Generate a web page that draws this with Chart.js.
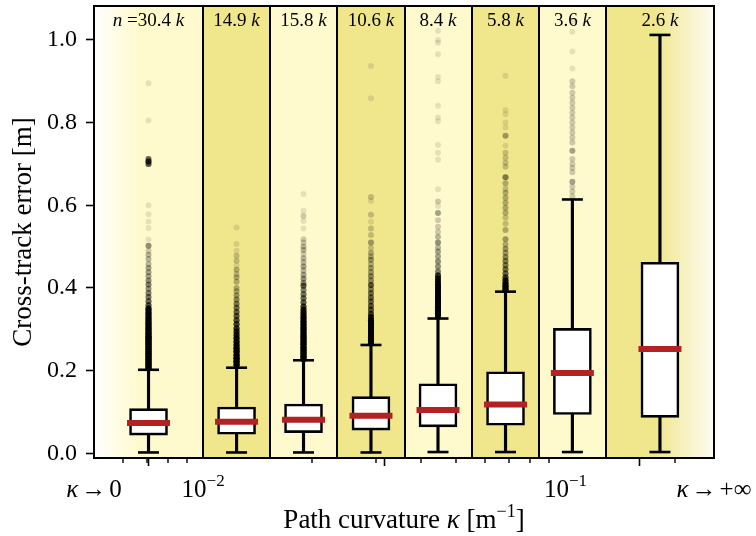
<!DOCTYPE html>
<html>
<head>
<meta charset="utf-8">
<script src="https://cdn.jsdelivr.net/npm/chart.js@4/dist/chart.umd.min.js"></script>
<style>
  html, body { margin: 0; padding: 0; background: #fff; }
  canvas { display: block; }
</style>
</head>
<body>
<canvas id="errChart" width="756" height="536"></canvas>
<script>
// curvature bins (log-spaced), first and last bin are open-ended
const binEdges = [0.005, 0.0100, 0.0153, 0.0234, 0.0361, 0.0552, 0.0845, 0.1294, 0.257];
const binCenters = [0.00707, 0.01237, 0.01893, 0.02906, 0.04449, 0.06833, 0.1045, 0.1823];
const sampleCounts = ['30.4', '14.9', '15.8', '10.6', '8.4', '5.8', '3.6', '2.6'];

// box statistics per bin [m]
const whiskerLow  = [0.002, 0.002, 0.002, 0.002, 0.003, 0.003, 0.003, 0.003];
const q1          = [0.044, 0.046, 0.050, 0.056, 0.064, 0.068, 0.094, 0.087];
const medians     = [0.073, 0.076, 0.081, 0.091, 0.105, 0.118, 0.194, 0.252];
const q3          = [0.108, 0.112, 0.119, 0.137, 0.168, 0.197, 0.302, 0.462];
const whiskerHigh = [0.202, 0.207, 0.225, 0.262, 0.326, 0.391, 0.614, 1.012];

// fliers as [value, count]
const fliers1 = [[0.895,1],[0.805,1],[0.712,8],[0.706,12],[0.700,10],[0.600,1],[0.578,1],[0.561,1],[0.545,1],[0.517,1],[0.502,5],[0.490,2],[0.480,3],[0.470,3],[0.458,3],[0.448,4],[0.438,4],[0.428,4],[0.418,5],[0.408,6],[0.398,5],[0.388,6],[0.378,7],[0.368,8],[0.358,10],[0.350,18],[0.344,20],[0.338,20],[0.332,22],[0.326,22],[0.320,24],[0.314,24],[0.308,26],[0.302,26],[0.296,28],[0.290,28],[0.284,30],[0.278,30],[0.272,30],[0.266,30],[0.260,30],[0.254,30],[0.248,30],[0.242,30],[0.236,30],[0.230,30],[0.224,30],[0.218,30],[0.212,30],[0.206,30]];
const fliers2 = [[0.546,1],[0.506,1],[0.490,1],[0.478,2],[0.466,2],[0.455,1],[0.444,3],[0.434,2],[0.426,3],[0.415,3],[0.400,3],[0.392,3],[0.382,4],[0.372,5],[0.362,6],[0.352,7],[0.342,8],[0.332,9],[0.322,10],[0.312,12],[0.302,14],[0.294,15],[0.286,16],[0.278,18],[0.270,20],[0.262,22],[0.254,24],[0.246,26],[0.238,28],[0.230,30],[0.222,30],[0.214,30]];
const fliers3 = [[0.627,1],[0.587,1],[0.574,2],[0.562,1],[0.544,1],[0.518,2],[0.510,2],[0.500,3],[0.492,3],[0.482,2],[0.472,3],[0.462,3],[0.452,4],[0.442,3],[0.432,4],[0.422,5],[0.412,5],[0.405,9],[0.395,6],[0.385,7],[0.375,8],[0.365,9],[0.355,12],[0.347,16],[0.340,18],[0.333,20],[0.326,22],[0.319,22],[0.312,24],[0.305,24],[0.298,26],[0.291,26],[0.284,28],[0.277,28],[0.270,30],[0.263,30],[0.256,30],[0.249,30],[0.242,30],[0.235,30],[0.228,30]];
const fliers4 = [[0.937,1],[0.859,1],[0.620,2],[0.610,1],[0.577,2],[0.560,1],[0.544,2],[0.528,2],[0.510,4],[0.497,2],[0.485,3],[0.476,3],[0.468,4],[0.458,3],[0.448,4],[0.438,4],[0.428,5],[0.418,5],[0.407,9],[0.397,6],[0.387,7],[0.377,8],[0.367,8],[0.357,9],[0.347,10],[0.337,12],[0.329,16],[0.322,20],[0.315,24],[0.308,26],[0.301,28],[0.294,30],[0.287,30],[0.280,30],[0.273,30],[0.266,30]];
const fliers5 = [[1.022,1],[1.000,1],[0.993,1],[0.965,1],[0.910,1],[0.900,1],[0.841,1],[0.812,1],[0.803,1],[0.746,1],[0.727,1],[0.710,1],[0.639,1],[0.609,2],[0.598,1],[0.581,4],[0.564,2],[0.548,2],[0.536,2],[0.524,3],[0.510,5],[0.498,3],[0.488,4],[0.476,4],[0.464,5],[0.452,5],[0.440,6],[0.430,14],[0.423,16],[0.416,18],[0.409,20],[0.402,22],[0.395,24],[0.388,26],[0.381,28],[0.374,30],[0.367,30],[0.360,30],[0.353,30],[0.346,30],[0.339,30],[0.332,30]];
const fliers6 = [[0.913,1],[0.830,1],[0.820,1],[0.800,1],[0.788,1],[0.768,4],[0.744,1],[0.727,2],[0.715,2],[0.703,2],[0.693,2],[0.668,6],[0.653,3],[0.640,2],[0.630,3],[0.618,3],[0.606,3],[0.594,3],[0.582,3],[0.570,2],[0.555,2],[0.540,3],[0.518,4],[0.505,3],[0.495,4],[0.485,4],[0.475,5],[0.465,6],[0.455,6],[0.445,7],[0.435,8],[0.425,12],[0.418,16],[0.411,20],[0.404,24],[0.397,26]];
const fliers7 = [[1.045,1],[1.020,1],[0.972,1],[0.931,1],[0.900,2],[0.888,2],[0.872,2],[0.860,2],[0.848,2],[0.836,2],[0.824,2],[0.812,2],[0.800,2],[0.788,2],[0.776,2],[0.764,2],[0.752,2],[0.732,4],[0.712,2],[0.700,2],[0.690,2],[0.680,2],[0.657,4],[0.645,2],[0.633,2],[0.622,2]];
const fliers8 = [];
const fliersByBin = [fliers1, fliers2, fliers3, fliers4, fliers5, fliers6, fliers7, fliers8];

// axis ticks
const yTicks = [0, 0.2, 0.4, 0.6, 0.8, 1.0];
const xMajorTicks = [0.005, 0.01, 0.1, 0.257];
const xMinorTicks = [0.006, 0.007, 0.008, 0.009, 0.02, 0.03, 0.04, 0.05, 0.06, 0.07, 0.08, 0.09, 0.2];

const SERIF = '"Liberation Serif", "Times New Roman", serif';
const LIGHT = '#fffacd';
const DARK = '#f0e68c';

const flierPoints = [];
fliersByBin.forEach((list, i) => {
  list.forEach(([v, n]) => {
    for (let k = 0; k < n; k++) flierPoints.push({ x: binCenters[i], y: v });
  });
});

const at = (vals) => binCenters.map((c, i) => ({ x: c, y: vals[i] }));
const span = (a, b) => binCenters.map((c, i) => ({ x: c, y: [a[i], b[i]] }));

// draws text pieces in sequence, centred on cx; piece = [text, size, italic, dy, gapAfter]
function drawPieces(ctx, pieces, cx, y) {
  const font = (p) => `${p[2] ? 'italic ' : ''}${p[1]}px ${SERIF}`;
  let total = 0;
  pieces.forEach(p => { ctx.font = font(p); total += ctx.measureText(p[0]).width + (p[4] || 0); });
  let x = cx - total / 2;
  ctx.textAlign = 'left';
  ctx.textBaseline = 'alphabetic';
  pieces.forEach(p => {
    ctx.font = font(p);
    ctx.fillText(p[0], x, y + (p[3] || 0));
    x += ctx.measureText(p[0]).width + (p[4] || 0);
  });
}

const bandPlugin = {
  id: 'bands',
  beforeDatasetsDraw(chart) {
    const { ctx, chartArea: a, scales: { x } } = chart;
    ctx.save();
    for (let i = 0; i < binEdges.length - 1; i++) {
      const x0 = x.getPixelForValue(binEdges[i]);
      const x1 = x.getPixelForValue(binEdges[i + 1]);
      let fill = i % 2 === 0 ? LIGHT : DARK;
      if (i === 0) {
        const g = ctx.createLinearGradient(x0, 0, x0 + 45, 0);
        g.addColorStop(0, '#ffffff');
        g.addColorStop(1, LIGHT);
        fill = g;
      } else if (i === binEdges.length - 2) {
        const g = ctx.createLinearGradient(x1 - 60, 0, x1, 0);
        g.addColorStop(0, DARK);
        g.addColorStop(1, '#fdfcf2');
        fill = g;
      }
      ctx.fillStyle = fill;
      ctx.fillRect(x0, a.top, x1 - x0, a.bottom - a.top);
    }
    ctx.strokeStyle = '#000';
    ctx.lineWidth = 2;
    for (let i = 1; i < binEdges.length - 1; i++) {
      const px = Math.round(x.getPixelForValue(binEdges[i]));
      ctx.beginPath();
      ctx.moveTo(px, a.top);
      ctx.lineTo(px, a.bottom);
      ctx.stroke();
    }
    ctx.restore();
  },
  afterDraw(chart) {
    const { ctx, chartArea: a, scales: { x } } = chart;
    ctx.save();
    // frame
    ctx.strokeStyle = '#000';
    ctx.lineWidth = 2;
    ctx.strokeRect(a.left, a.top, a.right - a.left, a.bottom - a.top);
    // minor ticks
    ctx.lineWidth = 1.4;
    xMinorTicks.forEach(v => {
      const px = Math.round(x.getPixelForValue(v));
      ctx.beginPath();
      ctx.moveTo(px, a.bottom);
      ctx.lineTo(px, a.bottom + 5);
      ctx.stroke();
    });
    ctx.fillStyle = '#000';
    // sample counts
    sampleCounts.forEach((n, i) => {
      const cx = x.getPixelForValue(binCenters[i]);
      const pieces = i === 0
        ? [['n', 19, true], [' =' + n + ' ', 19, false], ['k', 19, true]]
        : [[n + ' ', 19, false], ['k', 19, true]];
      drawPieces(ctx, pieces, cx, a.top + 20);
    });
    // x tick labels
    const ty = a.bottom + 39;
    const xLabels = [
      [['κ', 25, true, 0, 3], ['→', 25, false, 0, 3], ['0', 25, false]],
      [['10', 25, false], ['−2', 17, false, -11]],
      [['10', 25, false], ['−1', 17, false, -11]],
      [['κ', 25, true, 0, 3], ['→', 25, false, 0, 3], ['+∞', 25, false]]
    ];
    xMajorTicks.forEach((v, i) => drawPieces(ctx, xLabels[i], x.getPixelForValue(v), ty));
    // x title
    drawPieces(ctx, [
      ['Path curvature ', 27, false], ['κ', 27, true], [' [m', 27, false],
      ['−1', 18, false, -11], [']', 27, false]
    ], (a.left + a.right) / 2, a.bottom + 70);
    ctx.restore();
  }
};

new Chart(document.getElementById('errChart'), {
  type: 'bar',
  data: {
    datasets: [
      {
        type: 'scatter', data: flierPoints, order: 5,
        pointRadius: 3, pointBackgroundColor: 'rgba(0,0,0,0.1)', pointBorderWidth: 0
      },
      {
        data: span(whiskerLow, q1), order: 4, grouped: false,
        barThickness: 2.5, backgroundColor: '#000', borderWidth: 0
      },
      {
        data: span(q3, whiskerHigh), order: 4, grouped: false,
        barThickness: 2.5, backgroundColor: '#000', borderWidth: 0
      },
      {
        data: span(q1, q3), order: 3, grouped: false,
        barThickness: 38, backgroundColor: '#fff', borderColor: '#000',
        borderWidth: 2.6, borderSkipped: false
      },
      {
        type: 'scatter', data: at(whiskerLow).concat(at(whiskerHigh)), order: 2,
        pointStyle: 'line', pointRadius: 10.5, pointBorderWidth: 2.6, pointBorderColor: '#000'
      },
      {
        type: 'scatter', data: at(medians), order: 1,
        pointStyle: 'line', pointRadius: 21.5, pointBorderWidth: 6, pointBorderColor: '#b22222'
      }
    ]
  },
  options: {
    responsive: false,
    animation: false,
    layout: { autoPadding: false, padding: { top: 6, right: 42, left: 0, bottom: 0 } },
    plugins: { legend: { display: false }, tooltip: { enabled: false } },
    scales: {
      x: {
        type: 'logarithmic',
        min: 0.005,
        max: 0.257,
        offset: false,
        afterBuildTicks: (s) => { s.ticks = xMajorTicks.map(v => ({ value: v })); },
        afterFit: (s) => { s.height = 78; s.paddingLeft = 0; s.paddingRight = 0; },
        ticks: { display: false },
        grid: { drawOnChartArea: false, tickLength: 8, tickWidth: 1.6, tickColor: '#000' },
        border: { color: '#000', width: 2 }
      },
      y: {
        type: 'linear',
        min: -0.0114,
        max: 1.082,
        afterBuildTicks: (s) => { s.ticks = yTicks.map(v => ({ value: v })); },
        afterFit: (s) => { s.width = 94; s.paddingTop = 0; s.paddingBottom = 0; },
        ticks: {
          color: '#000', padding: 9,
          font: { family: SERIF, size: 24 },
          callback: (v) => Number(v).toFixed(1)
        },
        grid: { drawOnChartArea: false, tickLength: 8, tickWidth: 1.6, tickColor: '#000' },
        border: { color: '#000', width: 2 },
        title: {
          display: true, text: 'Cross-track error [m]', color: '#000',
          font: { family: SERIF, size: 27 }, padding: { top: 8, bottom: 0 }
        }
      }
    }
  },
  plugins: [bandPlugin]
});
</script>
</body>
</html>
